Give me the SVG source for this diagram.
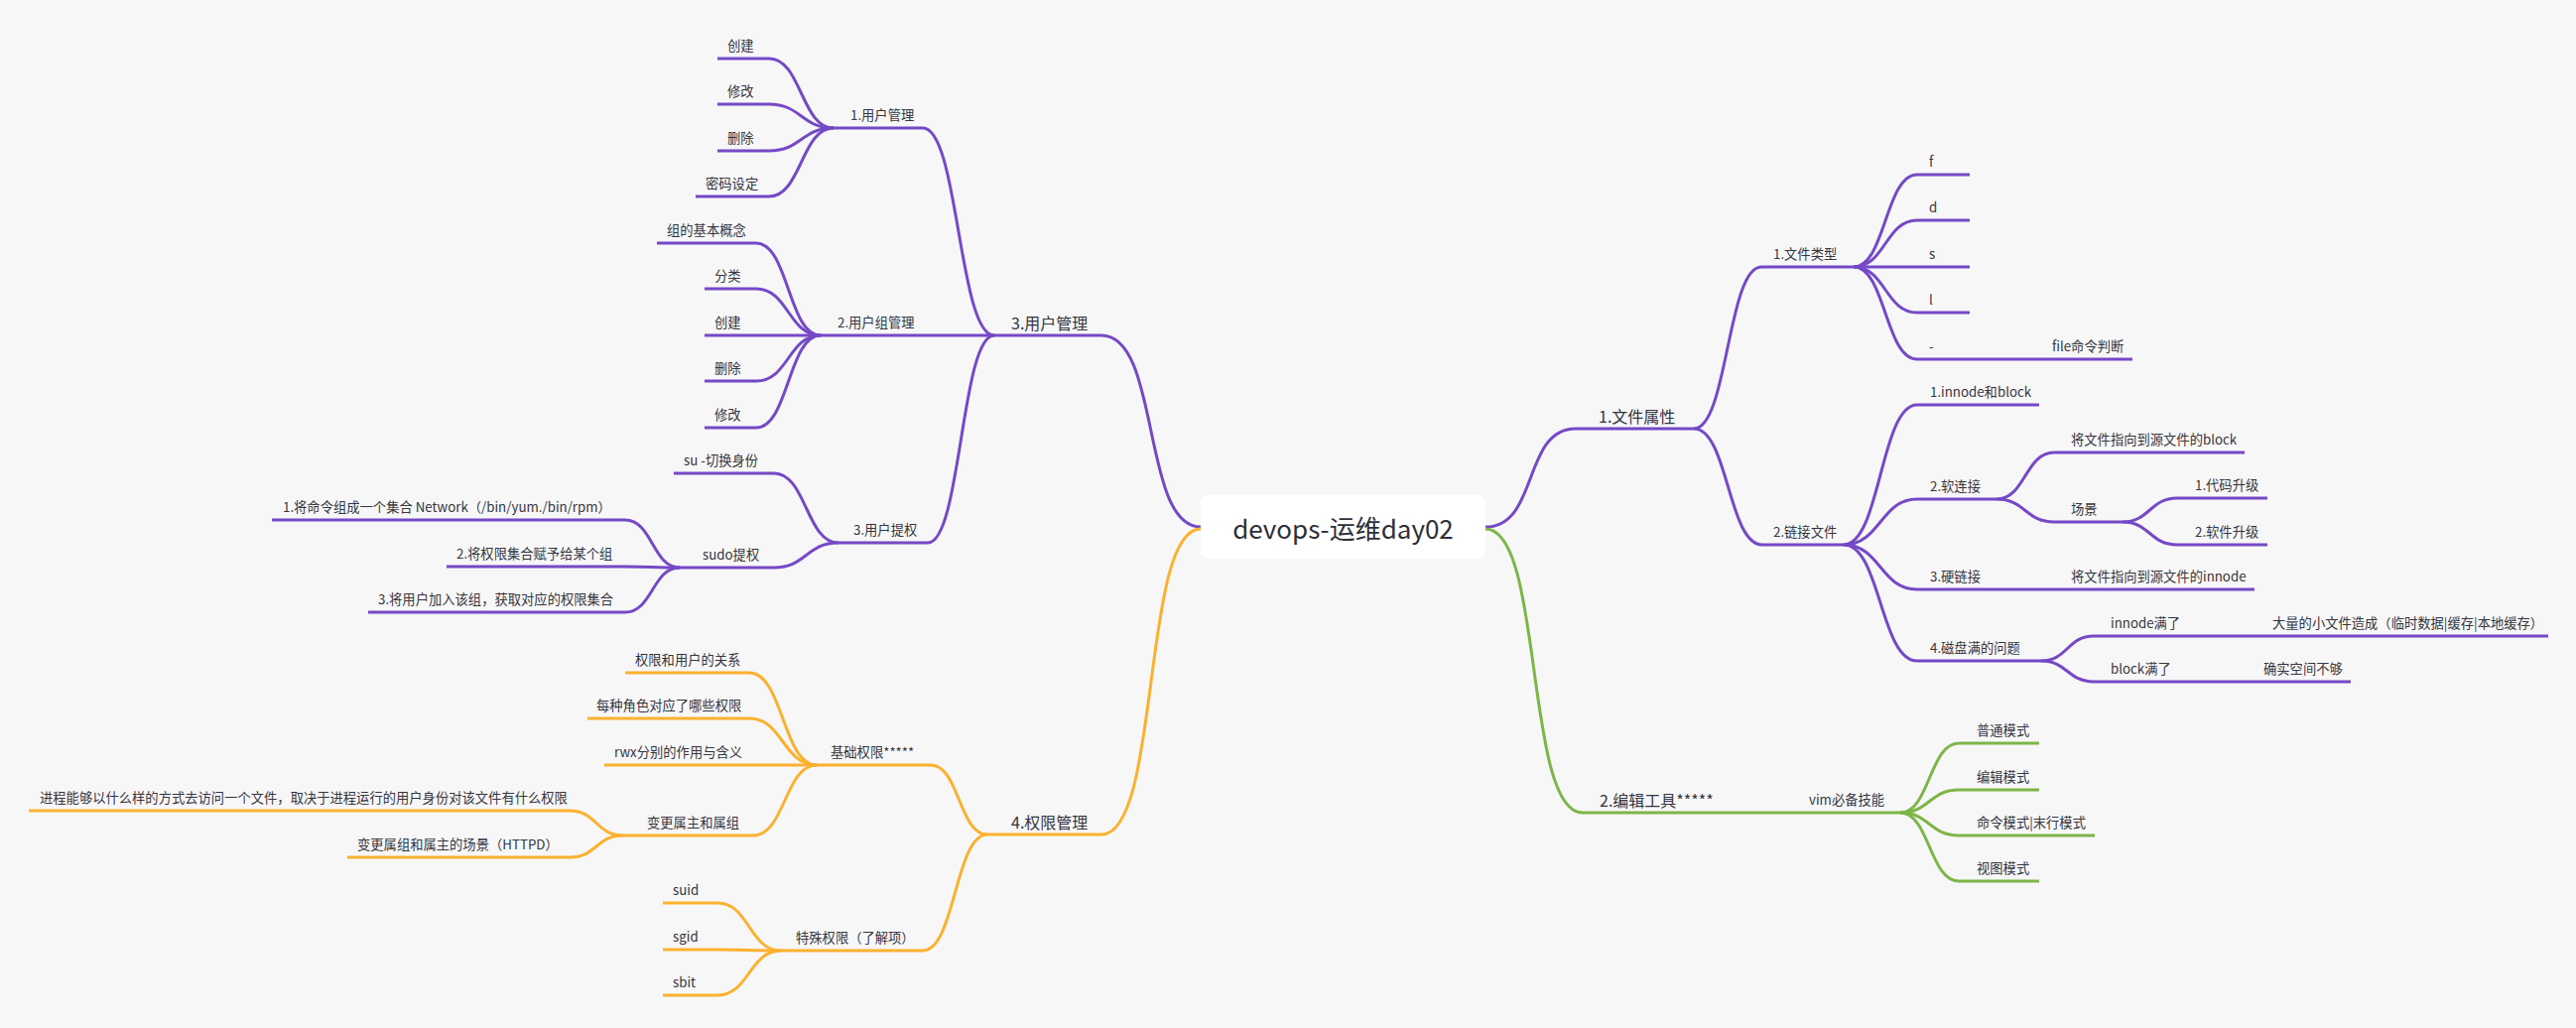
<svg xmlns="http://www.w3.org/2000/svg" width="2596" height="1036" viewBox="0 0 2596 1036">
  <style>
    text { font-family: "Noto Sans CJK SC", "Noto Sans", "Liberation Sans", sans-serif; fill: #353540; }
    .t { font-size: 13.3px; }
    .t1 { font-size: 16px; }
    .root { font-size: 26px; fill: #2e2e38; }
    .u, .c { fill: none; stroke-width: 3; stroke-linecap: butt; stroke-linejoin: round; }
    .p { stroke: #7549c6; }
    .o { stroke: #fbb12f; }
    .g { stroke: #7db548; }
  </style>
  <rect x="0" y="0" width="2596" height="1036" fill="#f7f7f7"/>

  <!-- connectors (curves from a parent junction to each child's underline) -->
  <g id="connectors">
    <!-- from the central topic -->
    <path class="c p" d="M1210,531 C1150,531 1170,338 1110,338"/>
    <path class="c o" d="M1210,533 C1150,533 1170,841 1110,841"/>
    <path class="c p" d="M1497,531 C1551,531 1534,432 1588,432"/>
    <path class="c g" d="M1497,533 C1556,533 1536,819 1595,819"/>

    <!-- 3.用户管理 -->
    <path class="c p" d="M930,129 C966,129 966,338 1002,338"/>
    <path class="c p" d="M935,547 C968.5,547 968.5,338 1002,338"/>
    <!-- 1.用户管理 children -->
    <path class="c p" d="M775,59 C807.5,59 807.5,129 840,129"/>
    <path class="c p" d="M775,105 C807.5,105 807.5,129 840,129"/>
    <path class="c p" d="M775,152 C807.5,152 807.5,129 840,129"/>
    <path class="c p" d="M775,198 C807.5,198 807.5,129 840,129"/>
    <!-- 2.用户组管理 children -->
    <path class="c p" d="M762,245 C794.5,245 794.5,338 827,338"/>
    <path class="c p" d="M762,291 C794.5,291 794.5,338 827,338"/>
    <path class="c p" d="M762,338 L827,338"/>
    <path class="c p" d="M762,384 C794.5,384 794.5,338 827,338"/>
    <path class="c p" d="M762,431 C794.5,431 794.5,338 827,338"/>
    <!-- 3.用户提权 children -->
    <path class="c p" d="M780,477 C812.5,477 812.5,547 845,547"/>
    <path class="c p" d="M780,572 C812.5,572 812.5,547 845,547"/>
    <!-- sudo提权 children -->
    <path class="c p" d="M630,524 C657.5,524 657.5,572 685,572"/>
    <path class="c p" d="M630,571 C657.5,571 657.5,572 685,572"/>
    <path class="c p" d="M630,617 C657.5,617 657.5,572 685,572"/>

    <!-- 4.权限管理 -->
    <path class="c o" d="M938,771 C966.5,771 966.5,841 995,841"/>
    <path class="c o" d="M930,958 C962.5,958 962.5,841 995,841"/>
    <!-- 基础权限 children -->
    <path class="c o" d="M755,678 C789,678 789,771 823,771"/>
    <path class="c o" d="M755,724 C789,724 789,771 823,771"/>
    <path class="c o" d="M755,771 L823,771"/>
    <path class="c o" d="M759,842 C791,842 791,771 823,771"/>
    <!-- 变更属主和属组 children -->
    <path class="c o" d="M574,817 C601,817 601,842 628,842"/>
    <path class="c o" d="M574,864 C601,864 601,842 628,842"/>
    <!-- 特殊权限 children -->
    <path class="c o" d="M723,910 C755,910 755,958 787,958"/>
    <path class="c o" d="M723,957 C755,957 755,958 787,958"/>
    <path class="c o" d="M723,1003 C755,1003 755,958 787,958"/>

    <!-- 1.文件属性 -->
    <path class="c p" d="M1707,432 C1741,432 1741,269 1775,269"/>
    <path class="c p" d="M1707,432 C1741.5,432 1741.5,549 1776,549"/>
    <!-- 1.文件类型 children -->
    <path class="c p" d="M1868,269 C1900,269 1900,176 1932,176"/>
    <path class="c p" d="M1868,269 C1900,269 1900,222 1932,222"/>
    <path class="c p" d="M1868,269 L1932,269"/>
    <path class="c p" d="M1868,269 C1900,269 1900,315 1932,315"/>
    <path class="c p" d="M1868,269 C1900,269 1900,362 1932,362"/>
    <!-- 2.链接文件 children -->
    <path class="c p" d="M1858,549 C1895,549 1895,408 1932,408"/>
    <path class="c p" d="M1858,549 C1895,549 1895,503 1932,503"/>
    <path class="c p" d="M1858,549 C1895,549 1895,594 1932,594"/>
    <path class="c p" d="M1858,549 C1895,549 1895,666 1932,666"/>
    <!-- 2.软连接 children -->
    <path class="c p" d="M2012,503 C2041,503 2041,456 2070,456"/>
    <path class="c p" d="M2012,503 C2041,503 2041,526 2070,526"/>
    <!-- 场景 children -->
    <path class="c p" d="M2139,526 C2166.5,526 2166.5,502 2194,502"/>
    <path class="c p" d="M2139,526 C2166.5,526 2166.5,549 2194,549"/>
    <!-- 4.磁盘满的问题 children -->
    <path class="c p" d="M2057,666 C2083.5,666 2083.5,641 2110,641"/>
    <path class="c p" d="M2057,666 C2083.5,666 2083.5,687 2110,687"/>

    <!-- vim必备技能 children -->
    <path class="c g" d="M1915,819 C1944.5,819 1944.5,749 1974,749"/>
    <path class="c g" d="M1915,819 C1944.5,819 1944.5,796 1974,796"/>
    <path class="c g" d="M1915,819 C1944.5,819 1944.5,842 1974,842"/>
    <path class="c g" d="M1915,819 C1944.5,819 1944.5,888 1974,888"/>
  </g>

  <!-- central topic -->
  <g id="n-root">
    <rect x="1210" y="499" width="287" height="64" rx="8" ry="8" fill="#ffffff"/>
    <text class="root" x="1353.5" y="543" text-anchor="middle">devops-运维day02</text>
  </g>

  <!-- ===== left: 3.用户管理 ===== -->
  <g id="n-user"><path class="u p" d="M1002,338 H1110"/><text class="t1" x="1019" y="332">3.用户管理</text></g>
  <g id="n-user-mgmt"><path class="u p" d="M840,129 H930"/><text class="t" x="857" y="121">1.用户管理</text></g>
  <g id="n-user-create"><path class="u p" d="M723,59 H775"/><text class="t" x="733" y="51">创建</text></g>
  <g id="n-user-modify"><path class="u p" d="M723,105 H775"/><text class="t" x="733" y="97">修改</text></g>
  <g id="n-user-delete"><path class="u p" d="M723,152 H775"/><text class="t" x="733" y="144">删除</text></g>
  <g id="n-user-passwd"><path class="u p" d="M701,198 H775"/><text class="t" x="711" y="190">密码设定</text></g>

  <g id="n-group-mgmt"><path class="u p" d="M827,338 H1002"/><text class="t" x="844" y="330">2.用户组管理</text></g>
  <g id="n-group-concept"><path class="u p" d="M662,245 H762"/><text class="t" x="672" y="237">组的基本概念</text></g>
  <g id="n-group-kind"><path class="u p" d="M710,291 H762"/><text class="t" x="720" y="283">分类</text></g>
  <g id="n-group-create"><path class="u p" d="M710,338 H762"/><text class="t" x="720" y="330">创建</text></g>
  <g id="n-group-delete"><path class="u p" d="M710,384 H762"/><text class="t" x="720" y="376">删除</text></g>
  <g id="n-group-modify"><path class="u p" d="M710,431 H762"/><text class="t" x="720" y="423">修改</text></g>

  <g id="n-escalate"><path class="u p" d="M845,547 H935"/><text class="t" x="860" y="539">3.用户提权</text></g>
  <g id="n-su"><path class="u p" d="M679,477 H780"/><text class="t" x="689" y="469">su -切换身份</text></g>
  <g id="n-sudo"><path class="u p" d="M685,572 H780"/><text class="t" x="708" y="564">sudo提权</text></g>
  <g id="n-sudo-1"><path class="u p" d="M274,524 H630"/><text class="t" x="285" y="516">1.将命令组成一个集合 Network（/bin/yum./bin/rpm）</text></g>
  <g id="n-sudo-2"><path class="u p" d="M450,571 H630"/><text class="t" x="460" y="563">2.将权限集合赋予给某个组</text></g>
  <g id="n-sudo-3"><path class="u p" d="M371,617 H630"/><text class="t" x="381" y="609">3.将用户加入该组，获取对应的权限集合</text></g>

  <!-- ===== left: 4.权限管理 ===== -->
  <g id="n-perm"><path class="u o" d="M995,841 H1110"/><text class="t1" x="1019" y="835">4.权限管理</text></g>
  <g id="n-perm-basic"><path class="u o" d="M823,771 H938"/><text class="t" x="837" y="763">基础权限*****</text></g>
  <g id="n-perm-rel"><path class="u o" d="M630,678 H755"/><text class="t" x="640" y="670">权限和用户的关系</text></g>
  <g id="n-perm-role"><path class="u o" d="M592,724 H755"/><text class="t" x="601" y="716">每种角色对应了哪些权限</text></g>
  <g id="n-perm-rwx"><path class="u o" d="M609,771 H755"/><text class="t" x="619" y="763">rwx分别的作用与含义</text></g>
  <g id="n-perm-owner"><path class="u o" d="M628,842 H759"/><text class="t" x="652" y="834">变更属主和属组</text></g>
  <g id="n-perm-owner-1"><path class="u o" d="M29,817 H574"/><text class="t" x="40" y="809">进程能够以什么样的方式去访问一个文件，取决于进程运行的用户身份对该文件有什么权限</text></g>
  <g id="n-perm-owner-2"><path class="u o" d="M350,864 H574"/><text class="t" x="360" y="856">变更属组和属主的场景（HTTPD）</text></g>
  <g id="n-perm-special"><path class="u o" d="M787,958 H930"/><text class="t" x="802" y="950">特殊权限（了解项）</text></g>
  <g id="n-suid"><path class="u o" d="M668,910 H723"/><text class="t" x="678" y="902">suid</text></g>
  <g id="n-sgid"><path class="u o" d="M668,957 H723"/><text class="t" x="678" y="949">sgid</text></g>
  <g id="n-sbit"><path class="u o" d="M668,1003 H723"/><text class="t" x="678" y="995">sbit</text></g>

  <!-- ===== right: 1.文件属性 ===== -->
  <g id="n-fattr"><path class="u p" d="M1588,432 H1707"/><text class="t1" x="1611" y="426">1.文件属性</text></g>
  <g id="n-ftype"><path class="u p" d="M1775,269 H1868"/><text class="t" x="1787" y="261">1.文件类型</text></g>
  <g id="n-ftype-f"><path class="u p" d="M1932,176 H1985"/><text class="t" x="1944" y="168">f</text></g>
  <g id="n-ftype-d"><path class="u p" d="M1932,222 H1985"/><text class="t" x="1944" y="214">d</text></g>
  <g id="n-ftype-s"><path class="u p" d="M1932,269 H1985"/><text class="t" x="1944" y="261">s</text></g>
  <g id="n-ftype-l"><path class="u p" d="M1932,315 H1985"/><text class="t" x="1944" y="307">l</text></g>
  <g id="n-ftype-dash"><path class="u p" d="M1932,362 H2055"/><text class="t" x="1944" y="354">-</text></g>
  <g id="n-ftype-cmd"><path class="u p" d="M2055,362 H2149"/><text class="t" x="2068" y="354">file命令判断</text></g>

  <g id="n-link"><path class="u p" d="M1776,549 H1858"/><text class="t" x="1787" y="541">2.链接文件</text></g>
  <g id="n-link-inode"><path class="u p" d="M1932,408 H2055"/><text class="t" x="1945" y="400">1.innode和block</text></g>
  <g id="n-link-soft"><path class="u p" d="M1932,503 H2012"/><text class="t" x="1945" y="495">2.软连接</text></g>
  <g id="n-link-soft-block"><path class="u p" d="M2070,456 H2262"/><text class="t" x="2087" y="448">将文件指向到源文件的block</text></g>
  <g id="n-link-scene"><path class="u p" d="M2070,526 H2139"/><text class="t" x="2087" y="518">场景</text></g>
  <g id="n-link-scene-1"><path class="u p" d="M2194,502 H2285"/><text class="t" x="2212" y="494">1.代码升级</text></g>
  <g id="n-link-scene-2"><path class="u p" d="M2194,549 H2285"/><text class="t" x="2212" y="541">2.软件升级</text></g>
  <g id="n-link-hard"><path class="u p" d="M1932,594 H2070"/><text class="t" x="1945" y="586">3.硬链接</text></g>
  <g id="n-link-hard-inode"><path class="u p" d="M2070,594 H2272"/><text class="t" x="2087" y="586">将文件指向到源文件的innode</text></g>
  <g id="n-disk"><path class="u p" d="M1932,666 H2057"/><text class="t" x="1945" y="658">4.磁盘满的问题</text></g>
  <g id="n-disk-inode"><path class="u p" d="M2110,641 H2272"/><text class="t" x="2127" y="633">innode满了</text></g>
  <g id="n-disk-inode-why"><path class="u p" d="M2272,641 H2568"/><text class="t" x="2290" y="633">大量的小文件造成（临时数据|缓存|本地缓存）</text></g>
  <g id="n-disk-block"><path class="u p" d="M2110,687 H2265"/><text class="t" x="2127" y="679">block满了</text></g>
  <g id="n-disk-block-why"><path class="u p" d="M2265,687 H2369"/><text class="t" x="2281" y="679">确实空间不够</text></g>

  <!-- ===== right: 2.编辑工具 ===== -->
  <g id="n-editor"><path class="u g" d="M1595,819 H1739"/><text class="t1" x="1612" y="813">2.编辑工具*****</text></g>
  <g id="n-vim"><path class="u g" d="M1739,819 H1915"/><text class="t" x="1823" y="811">vim必备技能</text></g>
  <g id="n-vim-normal"><path class="u g" d="M1974,749 H2055"/><text class="t" x="1992" y="741">普通模式</text></g>
  <g id="n-vim-insert"><path class="u g" d="M1974,796 H2055"/><text class="t" x="1992" y="788">编辑模式</text></g>
  <g id="n-vim-cmd"><path class="u g" d="M1974,842 H2111"/><text class="t" x="1992" y="834">命令模式|末行模式</text></g>
  <g id="n-vim-visual"><path class="u g" d="M1974,888 H2055"/><text class="t" x="1992" y="880">视图模式</text></g>
</svg>
